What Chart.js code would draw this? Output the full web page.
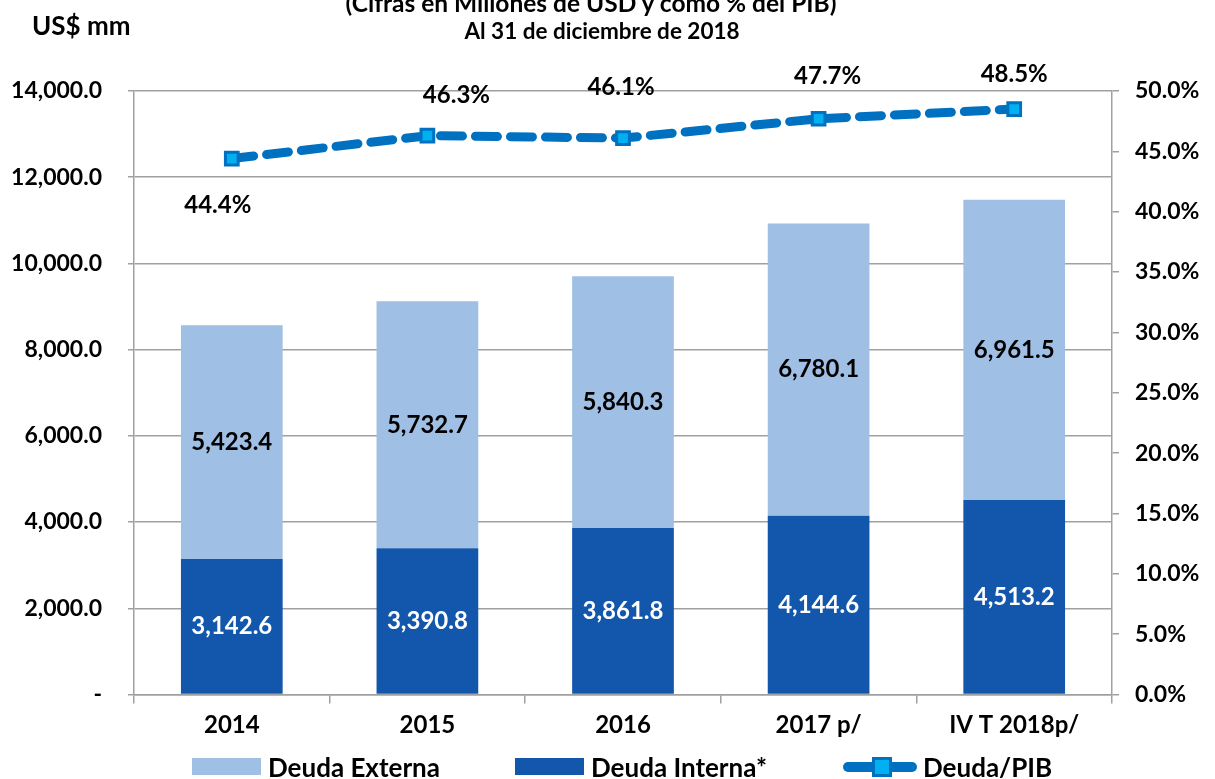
<!DOCTYPE html>
<html>
<head>
<meta charset="utf-8">
<script src="https://cdn.jsdelivr.net/npm/chart.js@4/dist/chart.umd.min.js"></script>
<style>
  body { margin: 0; background: #fff; font-family: Lato, sans-serif; }
  #wrap { position: relative; width: 1215px; height: 779px; overflow: hidden; }
  canvas { position: absolute; left: 0; top: 0; }
  .txt { position: absolute; font-weight: bold; color: #000; white-space: nowrap; }
  .title { text-align: center; }
  .leg { position: absolute; top: 753px; height: 27px; display: flex; align-items: center; font-size: 26px; font-weight: bold; }
  .box { width: 69px; height: 17px; margin-right: 7px; }
  .lineIcon { position: relative; width: 74px; height: 20px; margin-right: 6px; }
  .lineIcon .bar { position: absolute; left: 0; top: 5px; width: 74px; height: 10px; border-radius: 5px; background: #0070C0; }
  .lineIcon .mk { position: absolute; left: 29px; top: 0px; width: 14px; height: 14px; background: #00B0F0; border: 3px solid #0070C0; }
</style>
</head>
<body>
<div id="wrap">
  <canvas id="chart" width="1215" height="779"></canvas>
  <div class="txt title" style="left:91px; width:1000px; top:-12px; font-size:24.5px">(Cifras en Millones de USD y como % del PIB)</div>
  <div class="txt title" style="left:102px; width:1000px; top:17px; font-size:22.5px">Al 31 de diciembre de 2018</div>
  <div class="txt" style="left:32px; top:9px; font-size:26px">US$ mm</div>
  <div class="leg" style="left:192px"><div class="box" style="background:#A0BFE4"></div>Deuda Externa</div>
  <div class="leg" style="left:515px"><div class="box" style="background:#1257AB"></div>Deuda Interna*</div>
  <div class="leg" style="left:843px"><div class="lineIcon"><div class="bar"></div><div class="mk"></div></div>Deuda/PIB</div>
</div>
<script>
// Datos del gráfico
const categories = ['2014', '2015', '2016', '2017 p/', 'IV T 2018p/'];
const deudaInterna = [3142.6, 3390.8, 3861.8, 4144.6, 4513.2];
const deudaExterna = [5423.4, 5732.7, 5840.3, 6780.1, 6961.5];
const deudaPib = [44.4, 46.3, 46.1, 47.7, 48.5];

const gridColor = '#A0A0A0';
const boldFont = { family: 'Lato', weight: 'bold', size: 23 };

function fmtNum(v) {
    return v.toLocaleString('en-US', { minimumFractionDigits: 1, maximumFractionDigits: 1 });
}

// Etiquetas de valores sobre barras y línea
const valueLabels = {
    id: 'valueLabels',
    afterDatasetsDraw(chart, args, opts) {
        const ctx = chart.ctx;
        ctx.save();
        ctx.font = 'bold 24px Lato';
        ctx.textAlign = 'center';
        ctx.textBaseline = 'middle';
        chart.data.datasets.forEach((ds, di) => {
            const meta = chart.getDatasetMeta(di);
            meta.data.forEach((el, i) => {
                if (ds.type === 'line') {
                    const off = opts.lineOffsets[i];
                    ctx.fillStyle = '#000';
                    ctx.fillText(ds.data[i].toFixed(1) + '%', el.x + off[0], el.y + off[1]);
                } else {
                    const p = el.getProps(['x', 'y', 'base'], true);
                    ctx.fillStyle = ds.labelColor;
                    ctx.fillText(fmtNum(ds.data[i]), p.x, (p.y + p.base) / 2);
                }
            });
        });
        ctx.restore();
    }
};

new Chart(document.getElementById('chart').getContext('2d'), {
    data: {
        labels: categories,
        datasets: [
            {
                type: 'line',
                label: 'Deuda/PIB',
                data: deudaPib,
                yAxisID: 'y1',
                order: 0,
                borderColor: '#0070C0',
                borderWidth: 9,
                borderDash: [22, 13],
                borderCapStyle: 'round',
                pointStyle: 'rect',
                pointRadius: 9,
                pointBackgroundColor: '#00B0F0',
                pointBorderColor: '#0070C0',
                pointBorderWidth: 3,
                tension: 0
            },
            {
                type: 'bar',
                label: 'Deuda Interna*',
                data: deudaInterna,
                yAxisID: 'y',
                order: 1,
                backgroundColor: '#1257AB',
                labelColor: '#fff',
                barPercentage: 0.52,
                categoryPercentage: 1
            },
            {
                type: 'bar',
                label: 'Deuda Externa',
                data: deudaExterna,
                yAxisID: 'y',
                order: 1,
                backgroundColor: '#A0BFE4',
                labelColor: '#000',
                barPercentage: 0.52,
                categoryPercentage: 1
            }
        ]
    },
    options: {
        responsive: false,
        animation: false,
        layout: { padding: { top: 91, left: 0, right: 0, bottom: 0 } },
        plugins: {
            legend: { display: false },
            tooltip: { enabled: false },
            valueLabels: { lineOffsets: [[-14, 47], [29, -40], [-2, -51], [9, -42], [0, -35]] }
        },
        scales: {
            x: {
                stacked: true,
                grid: { drawOnChartArea: false, drawTicks: true, tickLength: 9, offset: true, color: gridColor, lineWidth: 1.5 },
                border: { color: gridColor, width: 1.5 },
                ticks: { color: '#000', font: { family: 'Lato', weight: 'bold', size: 24 }, padding: 7 },
                afterFit(scale) { scale.height = 84.5; }
            },
            y: {
                stacked: true,
                position: 'left',
                min: 0,
                max: 14000,
                ticks: {
                    stepSize: 2000,
                    color: '#000',
                    font: boldFont,
                    padding: 26,
                    callback: v => v === 0 ? '-' : fmtNum(v)
                },
                grid: { color: gridColor, lineWidth: 1.5, tickLength: 6 },
                border: { color: gridColor, width: 1.5 },
                afterFit(scale) { scale.width = 134; }
            },
            y1: {
                position: 'right',
                min: 0,
                max: 50,
                ticks: {
                    stepSize: 5,
                    color: '#000',
                    font: boldFont,
                    padding: 16,
                    callback: v => v.toFixed(1) + '%'
                },
                grid: { drawOnChartArea: false, color: gridColor, lineWidth: 1.5, tickLength: 7 },
                border: { color: gridColor, width: 1.5 },
                afterFit(scale) { scale.width = 103; }
            }
        }
    },
    plugins: [valueLabels]
});
</script>
</body>
</html>
